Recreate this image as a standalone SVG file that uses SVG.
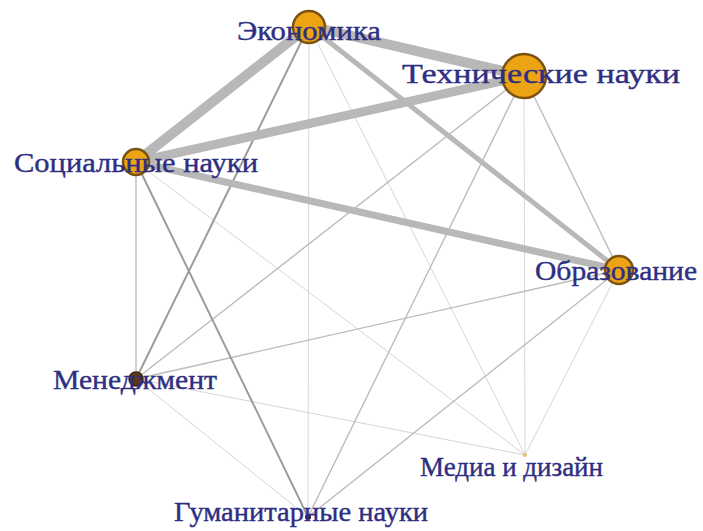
<svg xmlns="http://www.w3.org/2000/svg" width="703" height="531" viewBox="0 0 703 531">
<style>
  .e { stroke: #b8b8b8; fill: none; stroke-linecap: round; }
  .f { stroke: #d6d6d6; stroke-width: 1; }
  .t { stroke: #bcbcbc; stroke-width: 1.4; }
  .d { stroke: #9c9c9c; stroke-width: 2; }
  .n { fill: #eda412; stroke: #7a5312; stroke-width: 2.5; }
  .lbl { font-family: "Liberation Serif", "Times New Roman", serif; font-size: 28px; fill: #2e2e82; stroke: #2e2e82; stroke-width: 0.4; }
</style>
<rect width="703" height="531" fill="#ffffff"/>
<g id="edges">
  <line class="e f" x1="309" y1="26" x2="308" y2="517"/>
  <line class="e f" x1="309" y1="26" x2="525" y2="455"/>
  <line class="e f" x1="524" y1="76" x2="525" y2="455"/>
  <line class="e f" x1="136" y1="162" x2="525" y2="455"/>
  <line class="e f" x1="619" y1="270" x2="525" y2="455"/>
  <line class="e f" x1="136" y1="379" x2="525" y2="455"/>
  <line class="e f" x1="136" y1="379" x2="308" y2="517"/>
  <line class="e t" x1="524" y1="76" x2="308" y2="517"/>
  <line class="e t" x1="524" y1="76" x2="619" y2="270"/>
  <line class="e t" x1="136" y1="162" x2="136" y2="379"/>
  <line class="e t" x1="619" y1="270" x2="136" y2="379"/>
  <line class="e t" x1="619" y1="270" x2="308" y2="517"/>
  <line class="e t" x1="524" y1="76" x2="136" y2="379"/>
  <line class="e d" x1="309" y1="26" x2="136" y2="379"/>
  <line class="e d" x1="136" y1="162" x2="308" y2="517"/>
  <line class="e" stroke-width="5" x1="309" y1="26" x2="619" y2="270"/>
  <line class="e" stroke-width="7" x1="136" y1="162" x2="619" y2="270"/>
  <line class="e" stroke-width="9" x1="524" y1="76" x2="136" y2="162"/>
  <line class="e" stroke-width="10" x1="309" y1="26" x2="136" y2="162"/>
  <line class="e" stroke-width="10" x1="309" y1="26" x2="524" y2="76"/>
</g>
<g id="node-economics"><circle class="n" cx="309" cy="27" r="16"/></g>
<g id="node-tech"><circle class="n" cx="524" cy="76" r="22"/></g>
<g id="node-social"><circle class="n" cx="136" cy="162" r="13"/></g>
<g id="node-education"><circle class="n" cx="619" cy="270" r="14"/></g>
<g id="node-management"><circle cx="136" cy="379" r="7" fill="#5a3a12" stroke="#3a2608" stroke-width="1.5"/></g>
<g id="node-media"><circle cx="525" cy="455" r="2" fill="#e0c070"/></g>
<g id="node-humanities"><circle cx="308" cy="517" r="3" fill="#2a1a40"/></g>
<g id="labels">
  <text class="lbl" x="237" y="40" textLength="144" lengthAdjust="spacingAndGlyphs">Экономика</text>
  <text class="lbl" x="402" y="83" textLength="278" lengthAdjust="spacingAndGlyphs">Технические науки</text>
  <text class="lbl" x="14" y="172" textLength="244" lengthAdjust="spacingAndGlyphs">Социальные науки</text>
  <text class="lbl" x="535" y="280" textLength="162" lengthAdjust="spacingAndGlyphs">Образование</text>
  <text class="lbl" x="53" y="389" textLength="164" lengthAdjust="spacingAndGlyphs">Менеджмент</text>
  <text class="lbl" x="420" y="476" textLength="183" lengthAdjust="spacingAndGlyphs">Медиа и дизайн</text>
  <text class="lbl" x="174" y="521" textLength="254" lengthAdjust="spacingAndGlyphs">Гуманитарные науки</text>
</g>
</svg>
